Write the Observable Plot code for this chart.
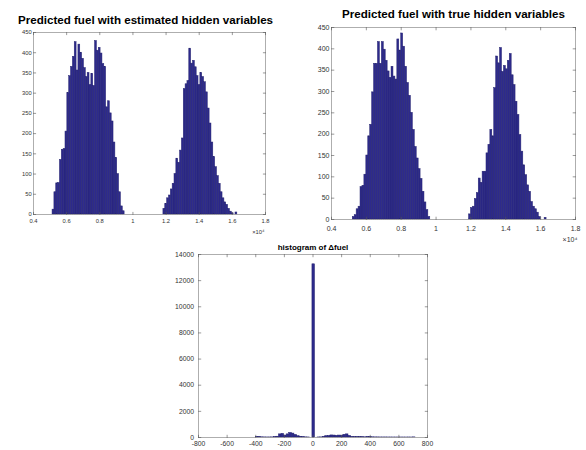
<!DOCTYPE html>
<html>
<head>
<meta charset="utf-8">
<script src="https://cdn.jsdelivr.net/npm/d3@7"></script>
<script src="https://cdn.jsdelivr.net/npm/@observablehq/plot@0.6"></script>
<style>
  body { margin: 0; background: #fff; }
  #root { position: relative; width: 586px; height: 450px; overflow: hidden; background: #fff; }
  .panel { position: absolute; }
  .panel svg { overflow: visible; }
</style>
</head>
<body>
<div id="root"></div>
<script>
// ---------- DATA ----------
// Panel titles
const titleEst = "Predicted fuel with estimated hidden variables";
const titleTrue = "Predicted fuel with true hidden variables";
const titleDelta = "histogram of Δfuel";

// Histogram of predicted fuel (estimated hidden variables): 100 bins
const fuelBinStartEst = 5150;
const fuelBinWidthEst = 111.5;
const countsEst = [
  12, 55, 77, 78, 135, 160, 162, 205, 300, 342,
  365, 390, 426, 356, 420, 400, 385, 362, 340, 350,
  320, 348, 318, 429, 405, 412, 398, 372, 365, 265,
  280, 250, 230, 178, 140, 100, 55, 20, 8, 0,
  0, 0, 0, 0, 0, 0, 0, 0, 0, 0,
  0, 0, 0, 0, 0, 0, 0, 0, 0, 0,
  14, 26, 40, 47, 62, 76, 100, 138, 128, 158,
  188, 310, 322, 330, 410, 373, 380, 364, 342, 320,
  350, 340, 327, 302, 262, 225, 178, 142, 117, 95,
  76, 55, 40, 30, 24, 14, 7, 3, 0, 5
];

// Histogram of predicted fuel (true hidden variables): 100 bins
const fuelBinStartTrue = 5220;
const fuelBinWidthTrue = 111.2;
const countsTrue = [
  6, 10, 24, 30, 76, 79, 105, 150, 195, 222,
  298, 365, 365, 416, 365, 416, 398, 372, 347, 332,
  358, 335, 328, 422, 396, 436, 405, 358, 320, 290,
  250, 210, 170, 143, 118, 95, 65, 40, 22, 6,
  0, 0, 0, 0, 0, 0, 0, 0, 0, 0,
  0, 0, 0, 0, 0, 0, 0, 0, 0, 0,
  12, 27, 30, 48, 62, 96, 86, 112, 112, 155,
  175, 210, 195, 308, 382, 366, 402, 346, 360, 352,
  372, 388, 338, 315, 276, 245, 198, 159, 127, 104,
  80, 65, 41, 30, 24, 16, 6, 0, 0, 4
];

// Histogram of Δfuel
const deltaBinStart = -400;
const deltaBinWidth = 18;
const deltaCounts = [
  30, 45, 15, 8, 5, 5, 10, 20, 60, 240,
  280, 150, 240, 350, 300, 200, 100, 55, 25, 10,
  5, 0, 13250, 0, 5, 10, 40, 110, 120, 160,
  150, 130, 150, 140, 210, 240, 120, 40, 20, 30,
  25, 20, 15, 30, 25, 15, 10, 8, 5, 5,
  5, 4, 3, 3, 2, 2, 3, 2, 2, 3,
  2, 10
];

// Axis ticks
const fuelTicks = [4000, 6000, 8000, 10000, 12000, 14000, 16000, 18000];
const fuelCountTicks = [0, 50, 100, 150, 200, 250, 300, 350, 400, 450];
const deltaTicks = [-800, -600, -400, -200, 0, 200, 400, 600, 800];
const deltaCountTicks = [0, 2000, 4000, 6000, 8000, 10000, 12000, 14000];
const fuelExponent = "×10⁴";

// ---------- DRAWING ----------
const FONT = "'Liberation Sans', Arial, Helvetica, sans-serif";
const BAR_FILL = "#2d2a8c";
const BAR_STROKE = "#25236f";
const FRAME = "#8c8c8c";
const TICKC = "#555";
const LABELC = "#333";

const tickShape = { draw(ctx, l) { ctx.moveTo(0, 0); ctx.lineTo(0, -l); } };

function inwardTicks(xt, yt, len) {
  const common = { length: len, anchor: "start", shape: tickShape, stroke: TICKC, strokeWidth: 0.6 };
  return [
    Plot.vector(xt, { x: d => d, frameAnchor: "bottom", rotate: 0, ...common }),
    Plot.vector(xt, { x: d => d, frameAnchor: "top", rotate: 180, ...common }),
    Plot.vector(yt, { y: d => d, frameAnchor: "left", rotate: 90, ...common }),
    Plot.vector(yt, { y: d => d, frameAnchor: "right", rotate: -90, ...common })
  ];
}

function bins(start, width, counts) {
  return counts.map((c, i) => ({ x1: start + i * width, x2: start + (i + 1) * width, count: c }))
               .filter(d => d.count > 0);
}

function panel(opts) {
  const p = Plot.plot({
    width: opts.width, height: opts.height,
    marginTop: opts.mt, marginRight: opts.mr, marginBottom: opts.mb, marginLeft: opts.ml,
    x: { domain: opts.xDomain, axis: null },
    y: { domain: opts.yDomain, axis: null },
    style: { fontFamily: FONT, background: "transparent", overflow: "visible" },
    marks: [
      Plot.rectY(opts.data, { x1: "x1", x2: "x2", y: "count", fill: BAR_FILL, stroke: BAR_STROKE, strokeWidth: 0.5, inset: 0 }),
      Plot.frame({ stroke: FRAME, strokeWidth: 0.7 }),
      ...inwardTicks(opts.xTicks, opts.yTicks, opts.tickLen),
      Plot.axisX(opts.xTicks, { anchor: "bottom", tickSize: 0, tickPadding: opts.xPad, tickFormat: opts.xFormat, fontSize: opts.fs, color: LABELC, label: null }),
      Plot.axisY(opts.yTicks, { anchor: "left", tickSize: 0, tickPadding: opts.yPad, tickFormat: d => String(d), fontSize: opts.fs, color: LABELC, label: null }),
      Plot.text([opts.title], { text: d => d, frameAnchor: "top", lineAnchor: "bottom", dy: opts.titleDy, dx: opts.titleDx || 0, fontWeight: "bold", fontSize: opts.titleFs, fill: "#000" }),
      ...(opts.exponent ? [Plot.text([opts.exponent], { text: d => d, frameAnchor: "bottom-right", textAnchor: "end", lineAnchor: "bottom", dy: opts.expDy, dx: opts.expDx, fontSize: opts.fs, fill: LABELC })] : [])
    ]
  });
  const wrap = document.createElement("div");
  wrap.className = "panel";
  wrap.style.left = opts.left + "px";
  wrap.style.top = opts.top + "px";
  wrap.appendChild(p);
  document.getElementById("root").appendChild(wrap);
}

const fuelFormat = d => String(d / 1e4);

panel({
  left: 0, top: 0, width: 290, height: 240, mt: 32, mr: 25, mb: 26, ml: 33,
  data: bins(fuelBinStartEst, fuelBinWidthEst, countsEst),
  xDomain: [4000, 18000], yDomain: [0, 450],
  xTicks: fuelTicks, yTicks: fuelCountTicks, xFormat: fuelFormat,
  tickLen: 2.2, xPad: 4.3, yPad: 1.8, fs: 5.8,
  title: titleEst, titleFs: 11.6, titleDy: -8.5, titleDx: -4,
  exponent: fuelExponent, expDy: 19.5, expDx: -1
});

panel({
  left: 290, top: 0, width: 296, height: 240, mt: 27, mr: 11, mb: 21, ml: 41,
  data: bins(fuelBinStartTrue, fuelBinWidthTrue, countsTrue),
  xDomain: [4000, 18000], yDomain: [0, 450],
  xTicks: fuelTicks, yTicks: fuelCountTicks, xFormat: fuelFormat,
  tickLen: 2.4, xPad: 7, yPad: 2, fs: 7,
  title: titleTrue, titleFs: 11.6, titleDy: -9.5, titleDx: 0,
  exponent: fuelExponent, expDy: 22, expDx: 2
});

panel({
  left: 160, top: 240, width: 290, height: 210, mt: 14, mr: 23, mb: 13, ml: 38,
  data: bins(deltaBinStart, deltaBinWidth, deltaCounts),
  xDomain: [-800, 800], yDomain: [0, 14000],
  xTicks: deltaTicks, yTicks: deltaCountTicks, xFormat: d => String(d),
  tickLen: 2.3, xPad: 3.7, yPad: 4.5, fs: 6.8,
  title: titleDelta, titleFs: 8, titleDy: -4.7, titleDx: 0
});
</script>
</body>
</html>
